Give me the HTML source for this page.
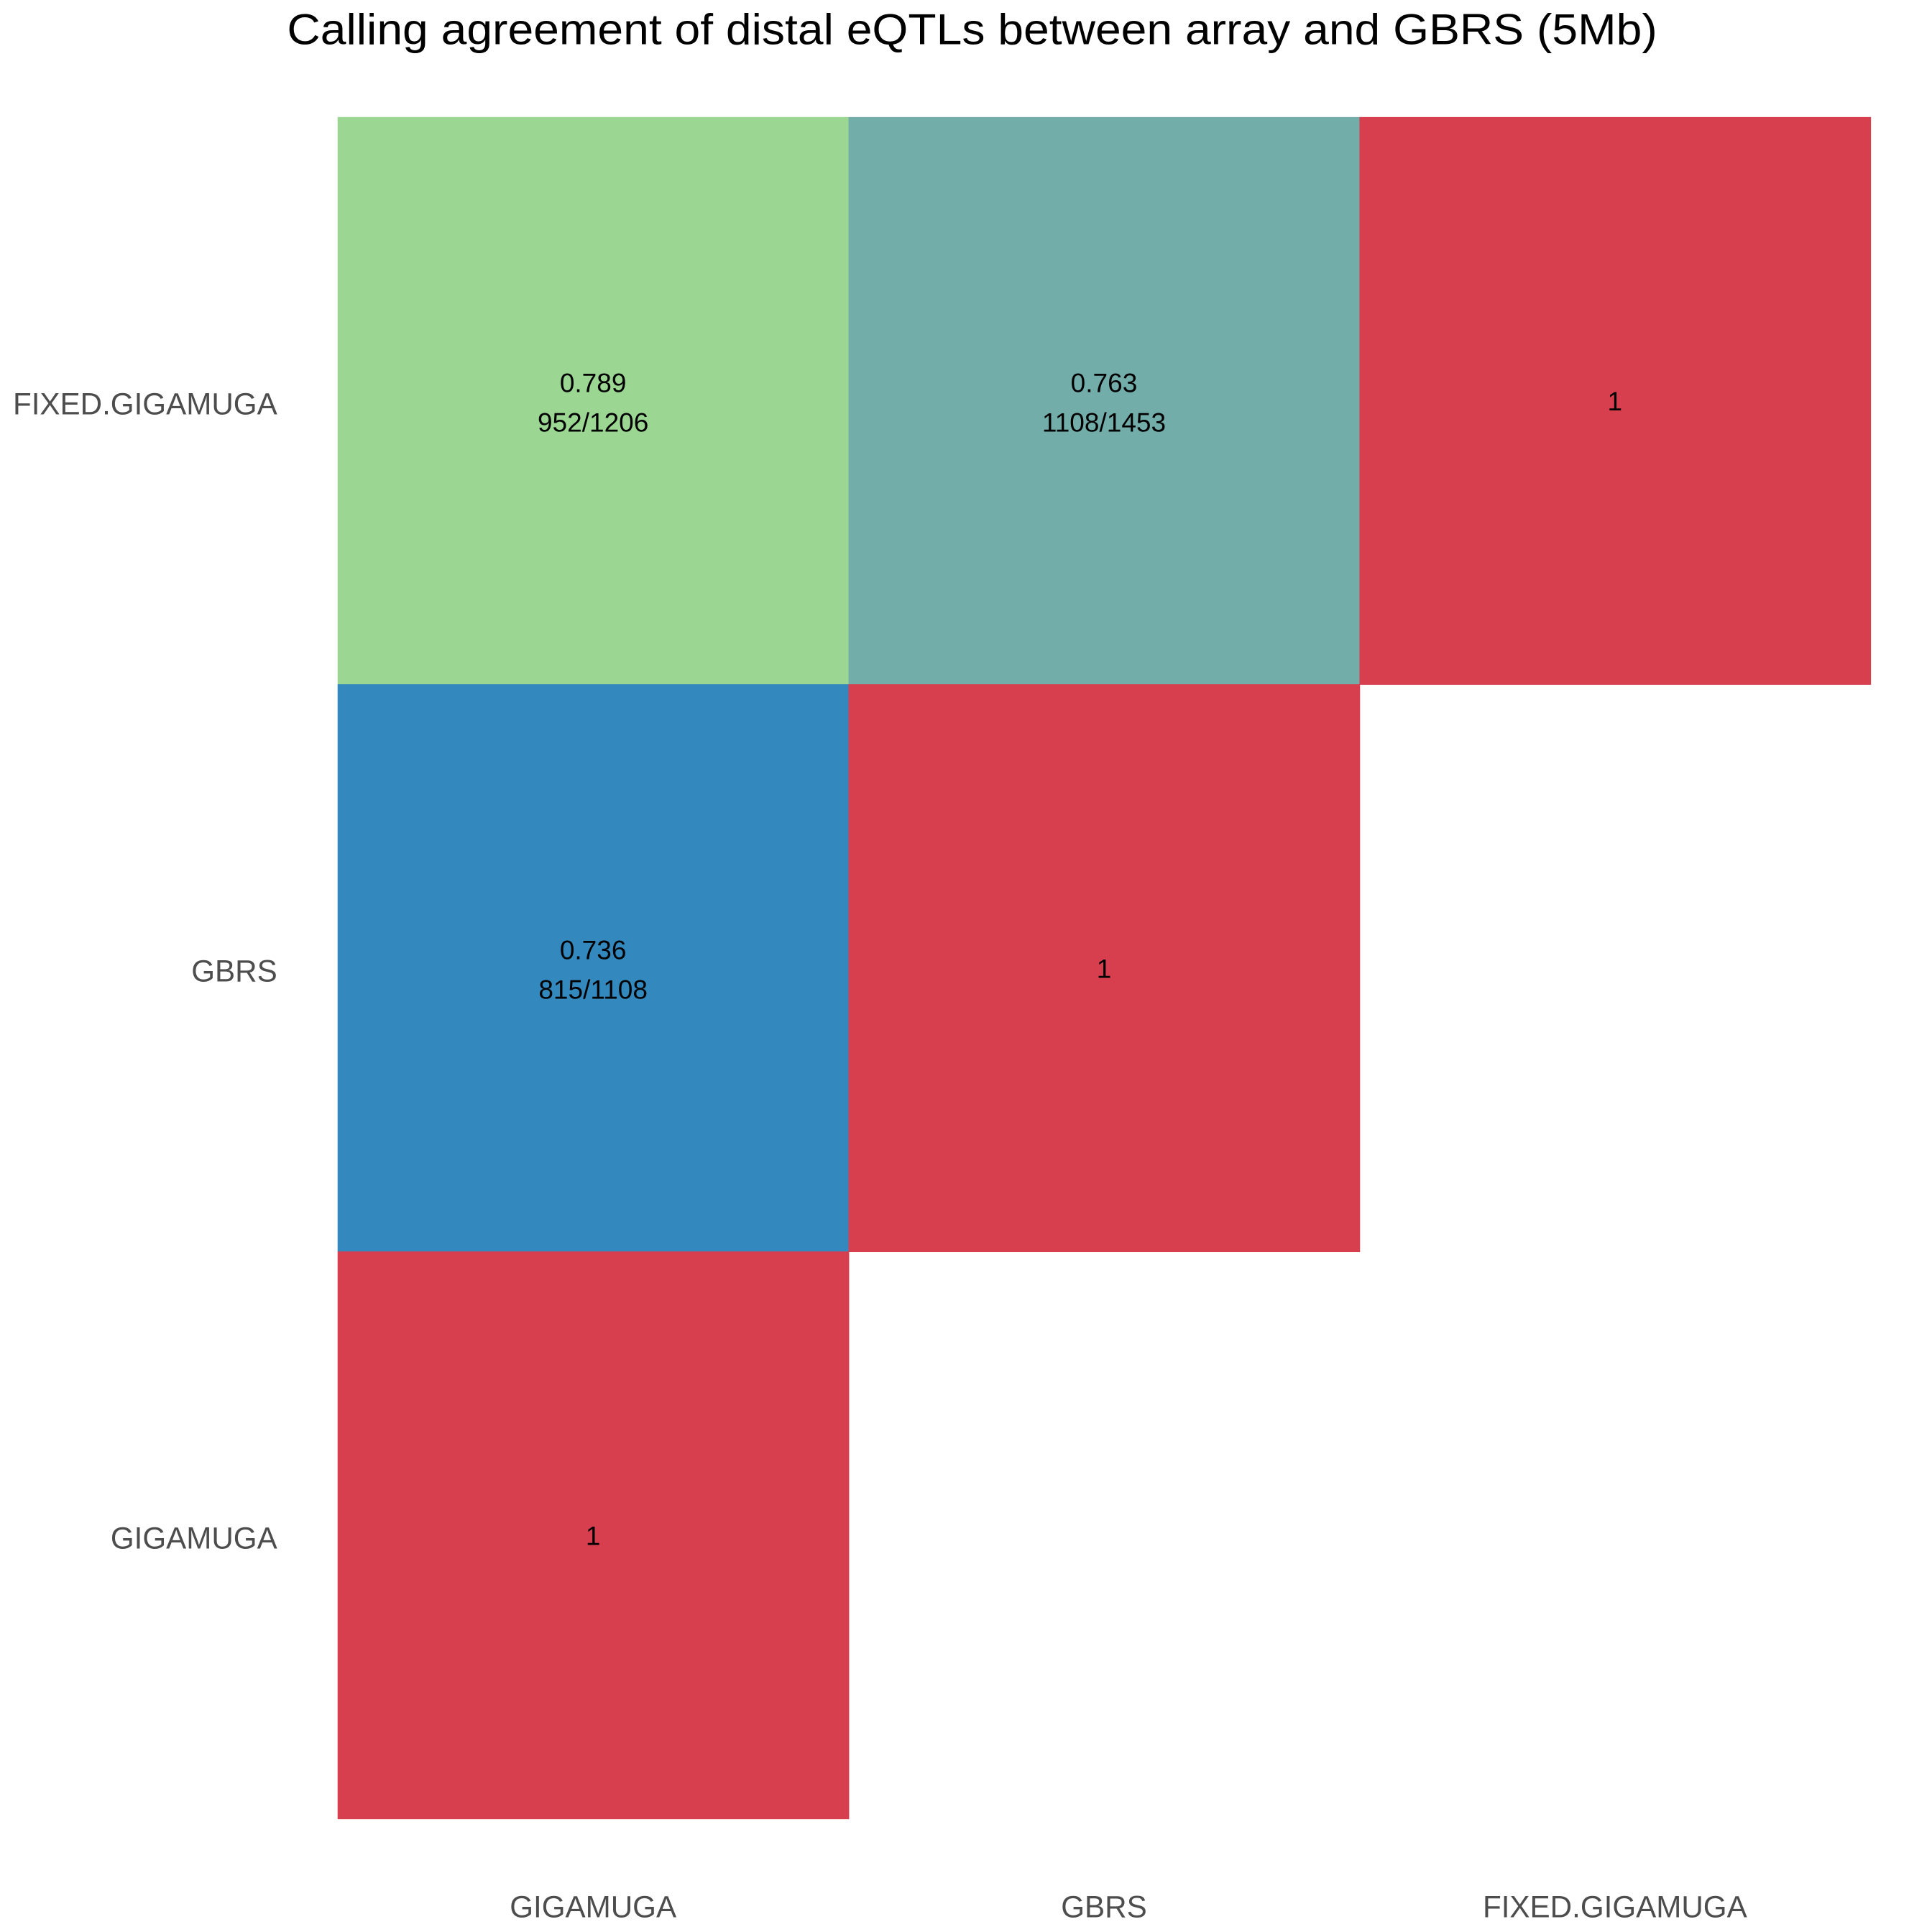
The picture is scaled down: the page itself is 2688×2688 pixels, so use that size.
<!DOCTYPE html>
<html><head><meta charset="utf-8"><style>
html,body{margin:0;padding:0;background:#fff;}
svg{display:block;}
text{font-family:"Liberation Sans",Arial,sans-serif;}
</style></head><body>
<svg id="chart" width="2688" height="2688" viewBox="0 0 1568 1568" xmlns="http://www.w3.org/2000/svg">
<rect x="0" y="0" width="1568" height="1568" fill="#fff"/>
<text x="789" y="36" font-size="35" text-anchor="middle" textLength="1112" lengthAdjust="spacingAndGlyphs" fill="#000">Calling agreement of distal eQTLs between array and GBRS (5Mb)</text>
<g id="cells"></g>
<g id="labels"></g>
</svg>
<script>
const xCategories = ["GIGAMUGA","GBRS","FIXED.GIGAMUGA"];
const yCategories = ["FIXED.GIGAMUGA","GBRS","GIGAMUGA"];
const cellX = ["GIGAMUGA","GBRS","FIXED.GIGAMUGA","GIGAMUGA","GBRS","GIGAMUGA"];
const cellY = ["FIXED.GIGAMUGA","FIXED.GIGAMUGA","FIXED.GIGAMUGA","GBRS","GBRS","GIGAMUGA"];
const cellValues = [0.789,0.763,1,0.736,1,1];
const cellCounts = ["952/1206","1108/1453","","815/1108","",""];
const cellColors = ["#9BD693","#73ADAA","#D73F4F","#3388BD","#D73F4F","#D73F4F"];

const NS="http://www.w3.org/2000/svg";
const x0=274, x1=1518, y0=95, y1=1476;
const bw=(x1-x0)/xCategories.length, bh=(y1-y0)/yCategories.length;
function xScale(c){return x0+xCategories.indexOf(c)*bw;}
function yScale(c){return y0+yCategories.indexOf(c)*bh;}
const cells=document.getElementById('cells');
const labels=document.getElementById('labels');
function mk(tag,attrs){const e=document.createElementNS(NS,tag);for(const k in attrs)e.setAttribute(k,attrs[k]);return e;}
cellValues.forEach((v,i)=>{
  const x=xScale(cellX[i]), y=yScale(cellY[i]);
  const r=mk('rect',{x:x,y:y,width:bw+0.5,height:bh+0.5,fill:cellColors[i]});
  
  
  cells.appendChild(r);
  const cx=x+bw/2, cy=y+bh/2;
  const t1=mk('text',{x:cx,y:cellCounts[i]?cy-7:cy+8,'font-size':'21.6','text-anchor':'middle',fill:'#000'});
  t1.textContent=String(v);
  
  
  cells.appendChild(t1);
  if(cellCounts[i]){
    const t2=mk('text',{x:cx,y:cy+25,'font-size':'21.6','text-anchor':'middle',fill:'#000'});
    t2.textContent=cellCounts[i];
    
    
    cells.appendChild(t2);
  }
});
xCategories.forEach(c=>{
  const t=mk('text',{x:xScale(c)+bw/2,y:1556,'font-size':'24.6','text-anchor':'middle',fill:'#4D4D4D'});
  t.textContent=c;
  
  
  labels.appendChild(t);
});
yCategories.forEach(c=>{
  const t=mk('text',{x:225,y:yScale(c)+bh/2+11,'font-size':'24.6','text-anchor':'end',fill:'#4D4D4D'});
  t.textContent=c;
  
  
  labels.appendChild(t);
});
</script>
</body></html>
